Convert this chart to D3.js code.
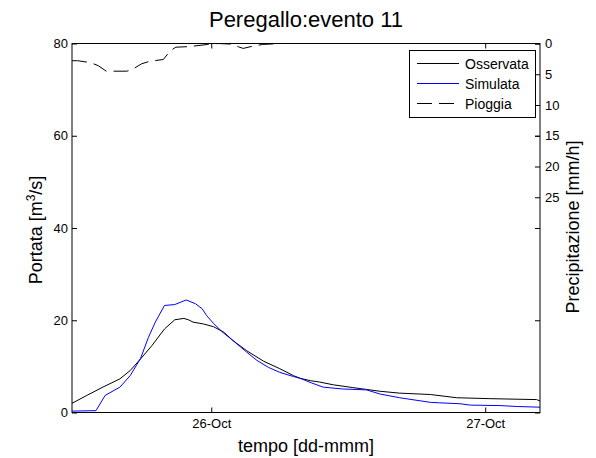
<!DOCTYPE html>
<html><head><meta charset="utf-8">
<script src="https://cdn.jsdelivr.net/npm/d3@7"></script>
<style>
body{margin:0;background:#fff}
text{font-family:"Liberation Sans",Arial,Helvetica,sans-serif;fill:#000}
</style>
</head><body>
<svg id="c" width="596" height="458"></svg>
<script>
// time in hours since 25-Oct 00:00
const osservataT = [11.8,13.1,14.5,16.0,16.9,17.8,18.8,19.9,20.8,21.6,22.0,22.4,23.3,24.2,25.1,25.9,27.1,28.6,30.0,31.2,31.8,32.7,33.5,34.7,36.4,37.6,38.8,40.5,43.2,45.5,48.4,52.5,52.8];
const osservataV = [2.0,3.7,5.5,7.3,9.1,11.6,14.5,18.1,20.1,20.4,20.1,19.6,19.2,18.6,17.4,15.6,13.4,11.1,9.5,8.0,7.4,6.9,6.6,6.0,5.4,5.0,4.6,4.2,3.9,3.2,3.0,2.8,2.5];
const simulataT = [11.8,13.9,14.7,16.0,16.9,17.8,18.5,19.1,19.9,20.8,21.8,22.6,23.2,23.6,24.2,25.0,25.9,27.1,28.0,29.0,30.0,31.2,31.8,32.8,33.8,35.5,37.6,38.8,40.5,43.2,44.0,45.8,46.7,49.3,50.8,52.8];
const simulataV = [0.3,0.4,3.7,5.5,8.0,11.7,16.3,19.6,23.2,23.4,24.4,23.6,22.5,21.0,19.3,17.4,15.6,13.1,11.3,9.8,8.7,7.8,7.4,6.4,5.5,5.1,4.9,4.0,3.2,2.2,2.1,1.9,1.6,1.5,1.3,1.15];
const pioggiaT = [11.8,12.3,13.4,14.1,14.8,16.6,17.0,17.9,18.6,19.8,20.4,20.9,22.1,23.7,24.6,25.8,26.4,26.8,27.7,28.5,30.2,52.8];
const pioggiaV = [2.8,2.8,3.1,3.6,4.5,4.5,4.3,3.3,2.9,2.6,1.2,0.6,0.5,0.15,0.0,0.1,0.55,0.8,0.4,0.15,0.0,0.0];

const xTickValues = [24,48];
const xTickLabels = ["26-Oct","27-Oct"];
const leftTicks = [0,20,40,60,80];
const rightTicks = [0,5,10,15,20,25];
const seriesNames = ["Osservata","Simulata","Pioggia"];
const seriesColors = ["#000000","#0000ff","#000000"];
const seriesDash = [null,null,"15,7"];

const svg = d3.select("#c");
svg.append("rect").attr("width",596).attr("height",458).attr("fill","#fff");

const L=72, R=540, T=43.5, B=412.5;
const x = d3.scaleLinear().domain([11.8,52.8]).range([L,R]);
const yL = d3.scaleLinear().domain([0,80]).range([B,T]);
const yR = d3.scaleLinear().domain([0,60]).range([T,B]);

svg.append("clipPath").attr("id","pc").append("rect")
  .attr("x",L).attr("y",T-1).attr("width",R-L).attr("height",B-T+2);

// data lines
const g = svg.append("g").attr("clip-path","url(#pc)");
const lineL = d3.line().x(d=>x(d[0])).y(d=>yL(d[1]));
const lineR = d3.line().x(d=>x(d[0])).y(d=>yR(d[1]));
g.append("path").datum(osservataT.map((t,i)=>[t,osservataV[i]]))
  .attr("d",lineL).attr("fill","none").attr("stroke",seriesColors[0]).attr("stroke-width",1);
g.append("path").datum(simulataT.map((t,i)=>[t,simulataV[i]]))
  .attr("d",lineL).attr("fill","none").attr("stroke",seriesColors[1]).attr("stroke-width",1);
g.append("path").datum(pioggiaT.map((t,i)=>[t,pioggiaV[i]]))
  .attr("d",lineR).attr("fill","none").attr("stroke",seriesColors[2]).attr("stroke-width",1)
  .attr("stroke-dasharray",seriesDash[2]);

// box
svg.append("rect").attr("x",L).attr("y",T).attr("width",R-L).attr("height",B-T)
  .attr("fill","none").attr("stroke","#000").attr("stroke-width",1);

function style(sel){
  sel.select(".domain").remove();
  sel.selectAll("line").attr("stroke","#000");
  sel.selectAll("text").attr("font-size","13px").attr("font-family","Liberation Sans, Arial, sans-serif").attr("fill","#000");
}
svg.append("g").attr("transform",`translate(${L},0)`)
  .call(d3.axisLeft(yL).tickValues(leftTicks).tickSizeInner(-5).tickSizeOuter(0).tickPadding(4).tickFormat(d3.format("d")))
  .call(style);
svg.append("g").attr("transform",`translate(${R},0)`)
  .call(d3.axisRight(yL).tickValues(leftTicks).tickSizeInner(-5).tickSizeOuter(0).tickFormat(""))
  .call(style);
svg.append("g").attr("transform",`translate(${R},0)`)
  .call(d3.axisRight(yR).tickValues(rightTicks).tickSizeInner(-5).tickSizeOuter(0).tickPadding(5).tickFormat(d3.format("d")))
  .call(style);
svg.append("g").attr("transform",`translate(0,${B})`)
  .call(d3.axisBottom(x).tickValues(xTickValues).tickSizeInner(-5).tickSizeOuter(0).tickPadding(6).tickFormat((d,i)=>xTickLabels[i]))
  .call(style);
svg.append("g").attr("transform",`translate(0,${T})`)
  .call(d3.axisTop(x).tickValues(xTickValues).tickSizeInner(-5).tickSizeOuter(0).tickFormat(""))
  .call(style);

// title & labels
svg.append("text").attr("x",(L+R)/2).attr("y",27).attr("text-anchor","middle")
  .attr("font-size","22px").text("Peregallo:evento 11");
svg.append("text").attr("x",(L+R)/2).attr("y",452).attr("text-anchor","middle")
  .attr("font-size","18px").text("tempo [dd-mmm]");
const yl = svg.append("text").attr("transform","translate(42,230) rotate(-90)")
  .attr("text-anchor","middle").attr("font-size","18px");
yl.append("tspan").text("Portata [m");
yl.append("tspan").attr("dy",-7).attr("font-size","12px").text("3");
yl.append("tspan").attr("dy",7).text("/s]");
svg.append("text").attr("transform","translate(579,227) rotate(-90)")
  .attr("text-anchor","middle").attr("font-size","18px").text("Precipitazione [mm/h]");

// legend
const lg = svg.append("g");
lg.append("rect").attr("x",409.5).attr("y",50.5).attr("width",126).attr("height",67)
  .attr("fill","#fff").attr("stroke","#000").attr("stroke-width",1);
lg.selectAll("path.leg").data(seriesNames).join("path").attr("class","leg")
  .attr("d",(d,i)=>`M417,${63.5+i*20}H459`)
  .attr("fill","none")
  .attr("stroke",(d,i)=>seriesColors[i])
  .attr("stroke-width",1.2)
  .attr("stroke-dasharray",(d,i)=>seriesDash[i]);
lg.selectAll("text.leg").data(seriesNames).join("text").attr("class","leg")
  .attr("x",465).attr("y",(d,i)=>68.5+i*20).attr("font-size","14px").text(d=>d);
</script>
</body></html>
